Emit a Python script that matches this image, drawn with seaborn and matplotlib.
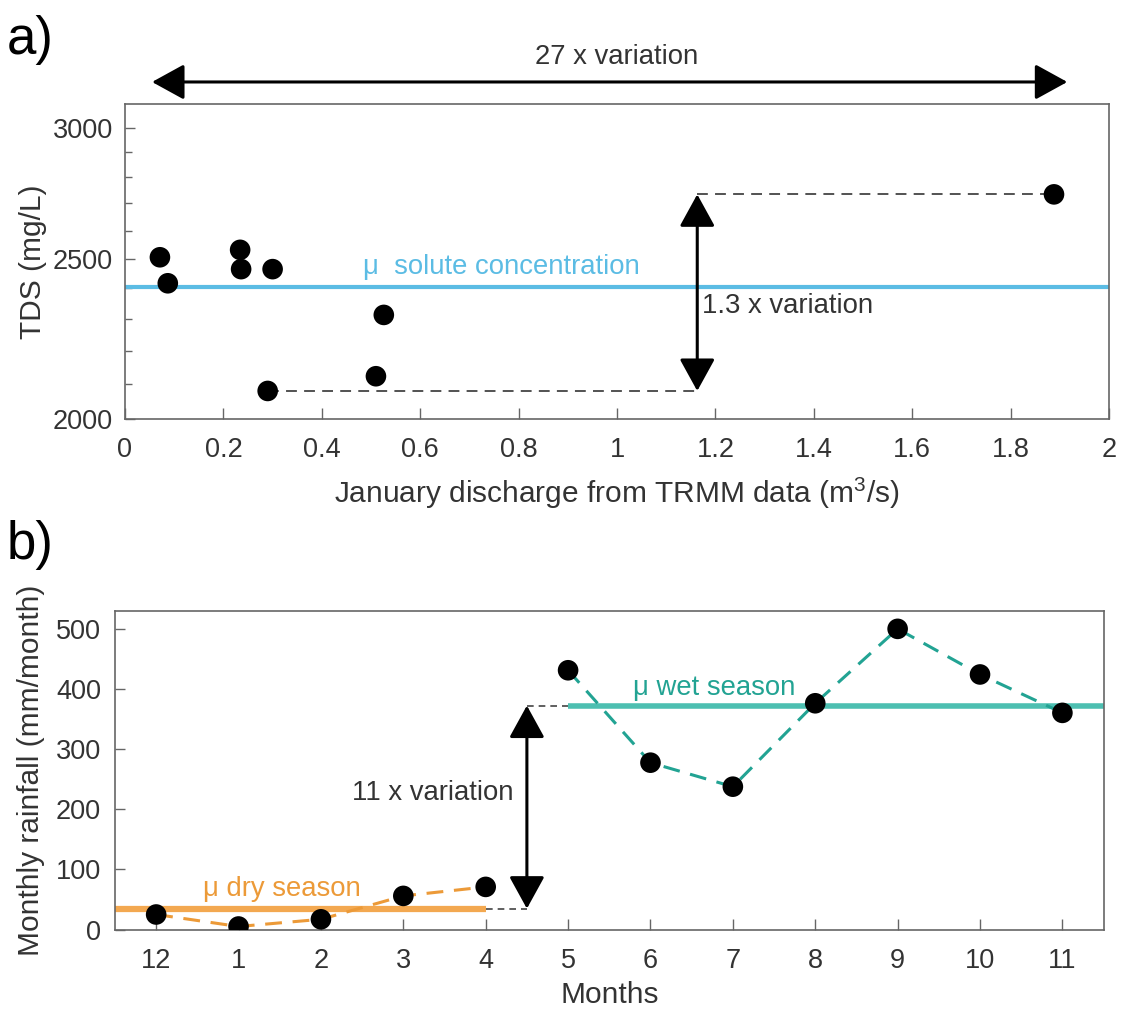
import numpy as np
import pandas as pd
import matplotlib
matplotlib.use("Agg")
import matplotlib.pyplot as plt
import seaborn as sns
from matplotlib.patches import FancyArrowPatch
from matplotlib.ticker import FixedLocator, NullFormatter

# ---------------- data ----------------
discharge = [0.071, 0.087, 0.234, 0.236, 0.300, 0.526, 0.510, 0.290, 1.888]
tds = [2505, 2416, 2531, 2464, 2464, 2312, 2123, 2080, 2734]

months = ["12", "1", "2", "3", "4", "5", "6", "7", "8", "9", "10", "11"]
rainfall = [25, 5, 17, 56, 71, 432, 278, 238, 377, 501, 425, 361]
season = ["dry"] * 5 + ["wet"] * 7

x_ticks_a = [0, 0.2, 0.4, 0.6, 0.8, 1, 1.2, 1.4, 1.6, 1.8, 2]
x_ticklabels_a = ["0", "0.2", "0.4", "0.6", "0.8", "1", "1.2", "1.4", "1.6", "1.8", "2"]
y_ticks_a = [2000, 2500, 3000]
y_ticks_b = [0, 100, 200, 300, 400, 500]

# ---------------- style ----------------
sns.set_theme(style="white")
plt.rcParams["font.family"] = ["Liberation Sans", "DejaVu Sans"]
plt.rcParams["mathtext.fontset"] = "custom"
plt.rcParams["mathtext.rm"] = "Liberation Sans"
plt.rcParams["mathtext.it"] = "Liberation Sans"

TXT = "#333333"
SPINE = "#666666"
BLUE = "#5BBCE4"
ORANGE_L = "#F3A850"
ORANGE_D = "#EC9A38"
TEAL_L = "#4DBFB1"
TEAL_D = "#22A393"
TICK_FS = 19.5
LABEL_FS = 21.5
ANN_FS = 19.8

fig = plt.figure(figsize=(11.26, 10.10), dpi=100)
ax1 = fig.add_axes([0.111, 0.585, 0.874, 0.312])
ax2 = fig.add_axes([0.1021, 0.0797, 0.878, 0.3149])


def style_axes(ax):
    for s in ax.spines.values():
        s.set_visible(True)
        s.set_color(SPINE)
        s.set_linewidth(1.2)
    ax.tick_params(which="both", direction="in", color=SPINE, width=1.0,
                   labelcolor=TXT, labelsize=TICK_FS, top=False, right=False,
                   bottom=True, left=True)
    ax.tick_params(axis="x", which="major", length=8, pad=13)
    ax.tick_params(axis="y", which="major", length=7, pad=8.5)
    ax.tick_params(axis="y", which="minor", length=5)


def darrow(ax, p0, p1, transform=None):
    arr = FancyArrowPatch(p0, p1, arrowstyle="<|-|>,head_length=20,head_width=11",
                          mutation_scale=1, lw=2.2, color="black",
                          shrinkA=0, shrinkB=0, zorder=4, clip_on=False,
                          transform=transform if transform is not None else ax.transData)
    ax.add_patch(arr)
    return arr


# ---------------- panel a ----------------
dfa = pd.DataFrame({"discharge": discharge, "tds": tds})
mean_tds = float(np.mean(tds))
ax1.set_yscale("log")
ax1.axhline(mean_tds, color=BLUE, lw=3, zorder=1)
sns.scatterplot(data=dfa, x="discharge", y="tds", ax=ax1, color="black",
                s=220, edgecolor="none", zorder=5, legend=False)
ax1.set_xlim(0, 2)
ax1.set_ylim(2000, 3100)
ax1.set_xticks(x_ticks_a, x_ticklabels_a)
ax1.yaxis.set_major_locator(FixedLocator(y_ticks_a))
ax1.set_yticks(y_ticks_a, [str(v) for v in y_ticks_a])
ax1.yaxis.set_minor_locator(FixedLocator([v for v in range(2100, 3100, 100) if v not in y_ticks_a]))
ax1.yaxis.set_minor_formatter(NullFormatter())
style_axes(ax1)
ax1.set_xlabel("January discharge from TRMM data (m$^3$/s)", fontsize=LABEL_FS, color=TXT, labelpad=9)
ax1.set_ylabel("TDS (mg/L)", fontsize=LABEL_FS, color=TXT, labelpad=4)

qmin, qmax = min(discharge), max(discharge)
tmin, tmax = min(tds), max(tds)
xa = 1.163
ax1.plot([dfa.loc[dfa.tds.idxmin(), "discharge"], xa], [tmin, tmin], color="#444444",
         lw=1.3, ls=(0, (6, 4)), zorder=2)
ax1.plot([xa, qmax], [tmax, tmax], color="#444444", lw=1.3, ls=(0, (6, 4)), zorder=2)
darrow(ax1, (xa, tmin), (xa, tmax))
ax1.text(1.172, 2340, "1.3 x variation", fontsize=ANN_FS, color=TXT, ha="left", va="center")
ax1.text(0.484, mean_tds * 1.010, "\u03bc  solute concentration", fontsize=ANN_FS,
         color=BLUE, ha="left", va="bottom")

# top arrow: 27 x variation
darrow(ax1, (0.055, 1.07), (1.915, 1.07), transform=ax1.get_xaxis_transform())
ax1.text(1.0, 1.15, "27 x variation", fontsize=ANN_FS, color=TXT, ha="center", va="center",
         transform=ax1.get_xaxis_transform())

# ---------------- panel b ----------------
pos = np.arange(len(months))
dfb = pd.DataFrame({"pos": pos, "rain": rainfall, "season": season})
dry = dfb[dfb.season == "dry"]
wet = dfb[dfb.season == "wet"]
dry_mean = float(dry.rain.mean())
wet_mean = float(wet.rain.mean())

ax2.plot([-0.5, dry.pos.max()], [dry_mean, dry_mean], color=ORANGE_L, lw=4.5, zorder=1,
         solid_capstyle="butt")
ax2.plot([wet.pos.min(), 11.5], [wet_mean, wet_mean], color=TEAL_L, lw=4, zorder=1,
         solid_capstyle="butt")
sns.lineplot(data=dry, x="pos", y="rain", ax=ax2, color=ORANGE_D, lw=2.2,
             linestyle=(0, (5.5, 3.5)), zorder=2)
sns.lineplot(data=wet, x="pos", y="rain", ax=ax2, color=TEAL_D, lw=2.2,
             linestyle=(0, (5.5, 3.5)), zorder=2)
sns.scatterplot(data=dfb, x="pos", y="rain", ax=ax2, color="black", s=220,
                edgecolor="none", zorder=5, legend=False)
ax2.set_xlim(-0.5, 11.5)
ax2.set_ylim(0, 530)
ax2.set_xticks(pos, months)
ax2.set_yticks(y_ticks_b, [str(v) for v in y_ticks_b])
style_axes(ax2)
ax2.tick_params(axis="y", which="major", pad=10)
ax2.set_xlabel("Months", fontsize=LABEL_FS, color=TXT, labelpad=5)
ax2.set_ylabel("Monthly rainfall (mm/month)", fontsize=LABEL_FS, color=TXT, labelpad=8)

xb = 4.5
ax2.plot([dry.pos.max(), xb], [dry_mean, dry_mean], color="#444444", lw=1.2,
         ls=(0, (4, 3)), zorder=2)
ax2.plot([xb, wet.pos.min()], [wet_mean, wet_mean], color="#444444", lw=1.2,
         ls=(0, (4, 3)), zorder=2)
darrow(ax2, (xb, dry_mean), (xb, wet_mean))
ax2.text(4.34, 228, "11 x variation", fontsize=ANN_FS, color=TXT, ha="right", va="center")
ax2.text(0.57, 67, "\u03bc dry season", fontsize=ANN_FS, color=ORANGE_D, ha="left", va="center")
ax2.text(5.79, 403, "\u03bc wet season", fontsize=ANN_FS, color=TEAL_D, ha="left", va="center")

# panel letters
fig.text(0.006, 0.960, "a)", fontsize=38, color="black", ha="left", va="center")
fig.text(0.006, 0.460, "b)", fontsize=38, color="black", ha="left", va="center")

fig.savefig("out.png", dpi=100)
